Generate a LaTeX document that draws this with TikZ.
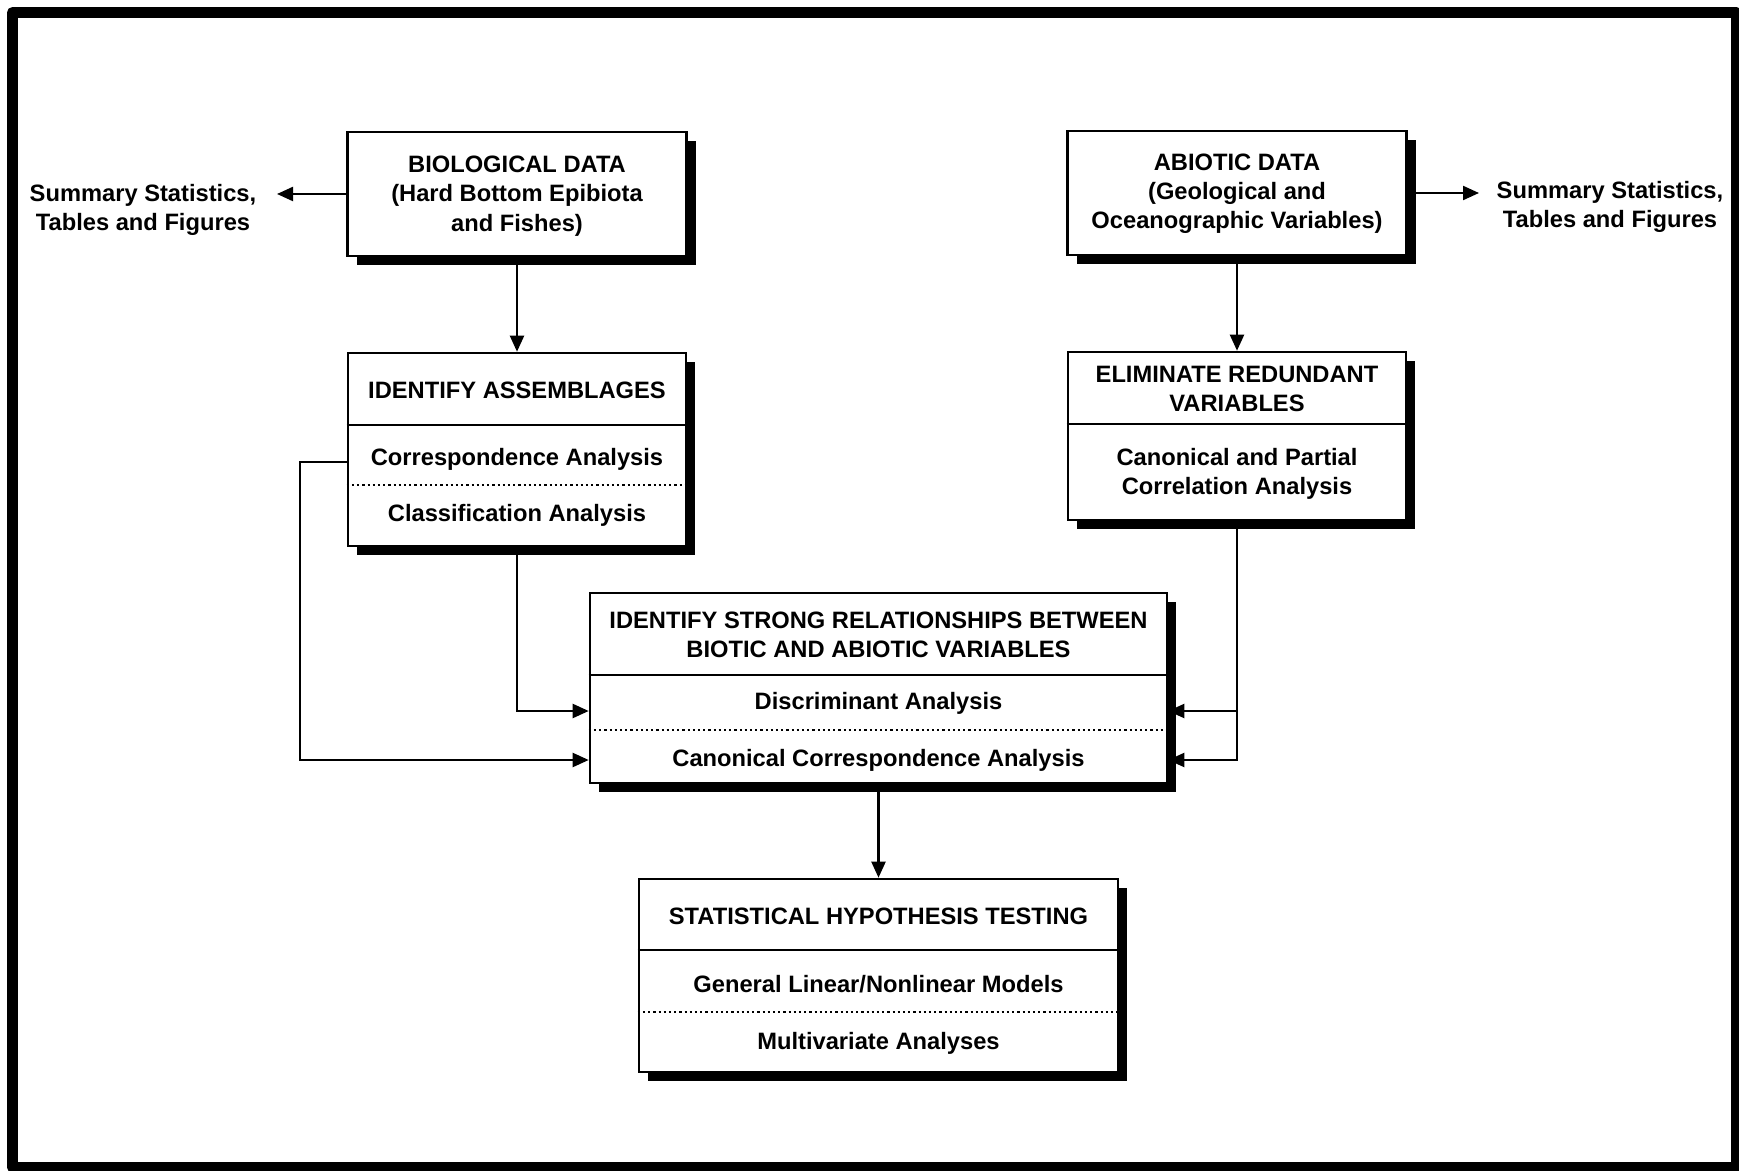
\documentclass[tikz,border=0pt]{standalone}
\usepackage{fontspec}
\setmainfont{Liberation Sans}
\usetikzlibrary{arrows.meta,shadows,calc}
\begin{document}
\begin{tikzpicture}[x=0.5pt,y=-0.5pt,
  box/.style={draw,line width=1.3pt,fill=white,inner sep=0pt,
    drop shadow={shadow xshift=4.5pt,shadow yshift=-4.5pt,opacity=1,fill=black}},
  txt/.style={font=\bfseries\fontsize{11.85pt}{14.6pt}\selectfont,align=center,inner sep=0pt},
  conn/.style={line width=1.1pt},
  arr/.style={line width=1.1pt,-{Triangle[length=8pt,width=7pt]}},
  sepline/.style={line width=1.3pt},
  dotline/.style={line width=1.3pt,dash pattern=on 1.1pt off 1.5pt},
]
\useasboundingbox (0,0) rectangle (1739,1171);
\fill[white] (0,0) rectangle (1739,1171);
\draw[line width=5.5pt,line join=round] (12.5,12.5) rectangle (1736,1167);

% boxes
\node[box,minimum width=169.5pt,minimum height=62pt] (bio) at (517,194) {};
\node[box,minimum width=169.5pt,minimum height=62pt] (abio) at (1237,193) {};
\node[box,minimum width=169pt,minimum height=96.5pt] (ia) at (517,449.5) {};
\node[box,minimum width=169pt,minimum height=84pt] (elim) at (1237,436) {};
\node[box,minimum width=288.5pt,minimum height=95pt] (is) at (878.5,688) {};
\node[box,minimum width=239.5pt,minimum height=96.5pt] (sth) at (878.5,975.5) {};

% separators
\draw[sepline] (ia.west |- 0,425) -- (ia.east |- 0,425);
\draw[dotline] (ia.west |- 0,485) -- (ia.east |- 0,485);
\draw[sepline] (elim.west |- 0,424) -- (elim.east |- 0,424);
\draw[sepline] (is.west |- 0,675) -- (is.east |- 0,675);
\draw[dotline] (is.west |- 0,730) -- (is.east |- 0,730);
\draw[sepline] (sth.west |- 0,950) -- (sth.east |- 0,950);
\draw[dotline] (sth.west |- 0,1012) -- (sth.east |- 0,1012);

% texts
\node[txt] (bioT) at (517,196) {BIOLOGICAL DATA\\(Hard Bottom Epibiota\\and Fishes)};
\node[txt] (abioT) at (1237,194) {ABIOTIC DATA\\(Geological and\\Oceanographic Variables)};
\node[txt] (sumL) at (143,210) {Summary Statistics,\\Tables and Figures};
\node[txt] (sumR) at (1610,207) {Summary Statistics,\\Tables and Figures};
\node[txt] (iaH) at (517,390) {IDENTIFY ASSEMBLAGES};
\node[txt] (iaC) at (517,459) {Correspondence Analysis};
\node[txt] (iaK) at (517,515) {Classification Analysis};
\node[txt] (elH) at (1237,389) {ELIMINATE REDUNDANT\\VARIABLES};
\node[txt] (elB) at (1237,474) {Canonical and Partial\\Correlation Analysis};
\node[txt] (isH) at (878.5,635) {IDENTIFY STRONG RELATIONSHIPS BETWEEN\\BIOTIC AND ABIOTIC VARIABLES};
\node[txt] (isD) at (878.5,703) {Discriminant Analysis};
\node[txt] (isC) at (878.5,760) {Canonical Correspondence Analysis};
\node[txt] (stH) at (878.5,916) {STATISTICAL HYPOTHESIS TESTING};
\node[txt] (stG) at (878.5,984) {General Linear/Nonlinear Models};
\node[txt] (stM) at (878.5,1043) {Multivariate Analyses};

% helper coordinates
\coordinate (sumLtip) at (277,194);
\coordinate (sumRtip) at (1479,193);
\coordinate (loopL) at (300,462);
\coordinate (yA) at (0,711);
\coordinate (yB) at (0,760);

% connectors
\draw[arr] (bio.west) -- (sumLtip);
\draw[arr] (abio.east) -- (sumRtip);
\draw[arr] (bio.south) -- (ia.north);
\draw[arr] (abio.south) -- (elim.north);
\draw[arr] (is.south) -- (sth.north);
\draw[arr] (ia.west |- loopL) -- (loopL) |- (is.west |- yB);
\draw[arr] (ia.south) |- (is.west |- yA);
\draw[arr] (elim.south) |- (is.east |- yA);
\draw[arr] (elim.south |- yA) |- (is.east |- yB);
\end{tikzpicture}
\end{document}
